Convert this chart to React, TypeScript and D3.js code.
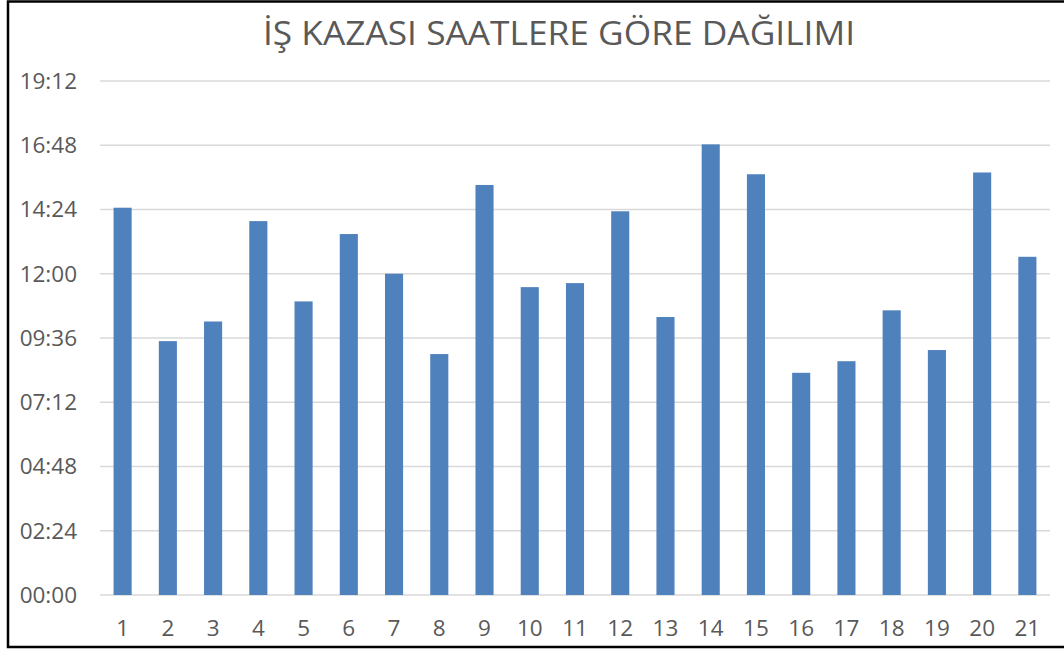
import React from "react";
import * as d3 from "d3";

const categories = ["1","2","3","4","5","6","7","8","9","10","11","12","13","14","15","16","17","18","19","20","21"];
// values as time of day "HH:MM"
const times = ["14:28","09:29","10:13","13:58","10:58","13:29","12:00","09:00","15:19","11:30","11:39","14:20","10:23","16:50","15:43","08:18","08:44","10:38","09:09","15:47","12:38"];
const tickLabels = ["00:00","02:24","04:48","07:12","09:36","12:00","14:24","16:48","19:12"];
const title = "İŞ KAZASI SAATLERE GÖRE DAĞILIMI";

const toDay = (t: string) => {
  const [h, m] = t.split(":").map(Number);
  return (h * 60 + m) / 1440;
};
const tickValues = tickLabels.map(toDay);

export default function App() {
  const W = 1064, H = 649;
  const left = 100, right = 1050, top = 81, bottom = 595;
  const x = d3.scaleBand<string>().domain(categories).range([left, right]).paddingInner(0.6).paddingOuter(0.3);
  const y = d3.scaleLinear().domain([0, 0.8]).range([bottom, top]);
  const font = "'Open Sans', 'Noto Sans', sans-serif";
  const textColor = "#595959";
  return (
    <svg width={W} height={H} style={{ position: "absolute", left: 0, top: 0 }}>
      <rect x={0} y={0} width={W} height={H} fill="#fff" />
      <path d={`M${W},1.5 H8 V647 H${W}`} fill="none" stroke="#000" strokeWidth={2.5} />
      <text x={559} y={45} textAnchor="middle" fontFamily={font} fontSize={33} fill={textColor}
        textLength={592} lengthAdjust="spacingAndGlyphs">{title}</text>
      {tickValues.map((v, i) => (
        <g key={i}>
          <line x1={left} x2={right} y1={y(v)} y2={y(v)} stroke="#d9d9d9" strokeWidth={1.5} />
          <text x={77} y={y(v)} dy="0.35em" textAnchor="end" fontFamily={font} fontSize={22.5} fill={textColor}>{tickLabels[i]}</text>
        </g>
      ))}
      {categories.map((c, i) => (
        <rect key={c} x={x(c)} y={y(toDay(times[i]))} width={x.bandwidth()} height={bottom - y(toDay(times[i]))} fill="#4f81bd" />
      ))}
      {categories.map((c) => (
        <text key={c} x={(x(c) as number) + x.bandwidth() / 2} y={636} textAnchor="middle" fontFamily={font} fontSize={22.5} fill={textColor}>{c}</text>
      ))}
    </svg>
  );
}
